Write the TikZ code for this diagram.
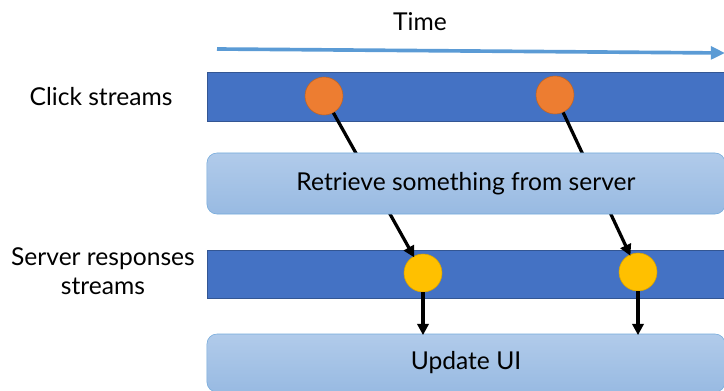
\documentclass[tikz,border=0pt]{standalone}
\usepackage{fontspec}
\setmainfont{Lato}
\usetikzlibrary{arrows.meta,positioning}
\definecolor{streamblue}{HTML}{4472C4}
\definecolor{timeblue}{HTML}{5B9BD5}
\definecolor{clickorange}{HTML}{ED7D31}
\definecolor{respyellow}{HTML}{FFC000}
\definecolor{boxtop}{HTML}{B1CBEA}
\definecolor{boxbottom}{HTML}{98BAE2}

\begin{document}
\begin{tikzpicture}[
x=0.025cm,y=-0.025cm,
font=\fontsize{17.5}{21}\selectfont,
band/.style={draw=streamblue!75!black,fill=streamblue,minimum width=12.925cm,minimum height=1.225cm,inner sep=0},
stepbox/.style={draw=timeblue!85,rounded corners=0.25cm,top color=boxtop,bottom color=boxbottom,minimum width=12.95cm,inner sep=0},
event/.style={circle,minimum size=0.95cm,inner sep=0},
link/.style={-{Triangle[length=8pt,width=8pt]},line width=2.3pt,black,shorten >=-1pt},
scale=1]
    \useasboundingbox (0,0) rectangle (724,390);

    % Draw time axis
    \node (time) at (420,22) {Time};
    \coordinate (tstart) at (217,49);
    \coordinate (tend) at (725,53);
    \draw[timeblue,line width=2.6pt,-{Triangle[length=10pt,width=9pt]}] (tstart) -- (tend);

    % Draw streams
    \node (clicks) [band] at (465.5,96.5) {};
    \node (responses) [band,minimum height=1.2cm] at (465.5,274) {};
    \node (clicklabel) at (101,97) {Click streams};
    \node (resplabel) [align=center] at (103,271) {Server responses\\streams};

    \node (click1) [event,draw=clickorange!80!black,fill=clickorange] at (324,96) {};
    \node (click2) [event,draw=clickorange!80!black,fill=clickorange] at (555,95) {};
    \node (resp1) [event,draw=respyellow!85!black,fill=respyellow] at (423,273) {};
    \node (resp2) [event,draw=respyellow!85!black,fill=respyellow] at (638,272) {};

    \draw[link] (click1) -- (resp1);
    \draw[link] (click2) -- (resp2);

    % Draw boxes
    \node (retrieve) [stepbox,minimum height=1.525cm] at (466,183.5) {Retrieve something from server};
    \node (update) [stepbox,minimum height=1.45cm] at (466,363) {Update UI};

    \draw[link] (resp1) -- (resp1 |- update.north);
    \draw[link] (resp2) -- (resp2 |- update.north);
\end{tikzpicture}
\end{document}
